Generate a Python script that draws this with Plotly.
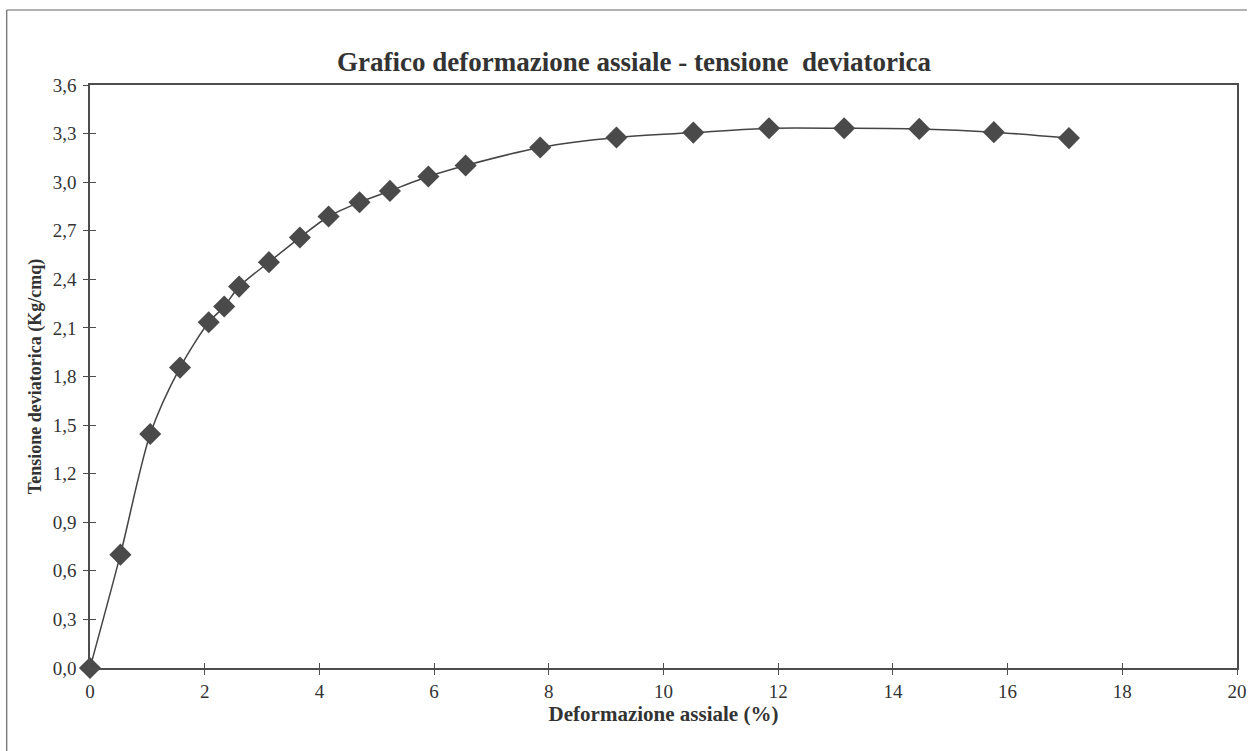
import plotly.graph_objects as go

# Data
deformazione = [0.0, 0.53, 1.05, 1.57, 2.07, 2.34, 2.60, 3.12, 3.66, 4.16, 4.70, 5.23,
                5.90, 6.55, 7.85, 9.18, 10.52, 11.84, 13.15, 14.46, 15.76, 17.07]
tensione = [0.0, 0.70, 1.445, 1.855, 2.135, 2.232, 2.355, 2.506, 2.658, 2.788, 2.876, 2.946,
            3.035, 3.103, 3.214, 3.276, 3.306, 3.333, 3.333, 3.329, 3.309, 3.272]
x_ticks = [0, 2, 4, 6, 8, 10, 12, 14, 16, 18, 20]
y_ticks = [0.0, 0.3, 0.6, 0.9, 1.2, 1.5, 1.8, 2.1, 2.4, 2.7, 3.0, 3.3, 3.6]

title_text = "Grafico deformazione assiale - tensione\u00a0 deviatorica"
x_title = "Deformazione assiale (%)"
y_title = "Tensione deviatorica (Kg/cmq)"

W, H = 1257, 751
ML, MR, MT, MB = 90, 10, 85, 83
FONT = "Liberation Serif, Times New Roman, serif"
INK = "#333333"
AXC = "#4d4d4d"

fig = go.Figure()
fig.add_trace(go.Scatter(
    x=deformazione, y=tensione, mode="lines+markers",
    line=dict(color="#444444", width=1.5, shape="spline", smoothing=0.8),
    marker=dict(symbol="diamond", size=17, color="#4a4a4a"),
    cliponaxis=False, showlegend=False,
))
# helper trace so that the overlay axes (inner half of crossing ticks) are drawn
fig.add_trace(go.Scatter(x=[None], y=[None], xaxis="x2", yaxis="y2",
                         showlegend=False, hoverinfo="skip"))

common = dict(showgrid=False, zeroline=False, linecolor=AXC, linewidth=1.5,
              tickcolor=AXC, tickwidth=1.2)

fig.update_layout(
    width=W, height=H, autosize=False,
    margin=dict(l=ML, r=MR, t=MT, b=MB),
    paper_bgcolor="white", plot_bgcolor="white",
    separators=", ",
    font=dict(family=FONT, color=INK, size=19),
    title=dict(text="<b>" + title_text + "</b>", x=634 / W,
               xanchor="center", y=1 - 62 / H, yanchor="middle",
               font=dict(size=27, family=FONT, color=INK)),
    xaxis=dict(range=[0, 20], tickvals=x_ticks, ticktext=[str(v) for v in x_ticks],
               ticks="outside", ticklen=5, showline=True, mirror=True,
               ticklabeloverflow="allow",
               title=dict(text="<b>" + x_title + "</b>", standoff=0,
                          font=dict(size=21, family=FONT, color=INK)),
               tickfont=dict(size=19, family=FONT, color=INK), **common),
    yaxis=dict(range=[0, 3.6], tickvals=y_ticks, tickformat=".1f",
               ticks="outside", ticklen=5, showline=True, mirror=True,
               ticklabelstandoff=3,
               title=dict(text="<b>" + y_title + "</b>", standoff=6,
                          font=dict(size=18, family=FONT, color=INK)),
               tickfont=dict(size=19, family=FONT, color=INK), **common),
    xaxis2=dict(range=[0, 20], overlaying="x", tickvals=x_ticks, showticklabels=False,
                ticks="inside", ticklen=5, showline=False, **common),
    yaxis2=dict(range=[0, 3.6], overlaying="y", tickvals=y_ticks, showticklabels=False,
                ticks="inside", ticklen=6, showline=False, **common),
)

# outer frame of the scanned chart area (left and top edges)
pw, ph = W - ML - MR, H - MT - MB
def px_x(p):
    return (p - ML) / pw
def px_y(p):
    return (H - MB - p) / ph
fig.add_shape(type="line", xref="paper", yref="paper",
              x0=px_x(6), x1=px_x(6), y0=px_y(10), y1=px_y(H),
              line=dict(color="#666", width=1.2))
fig.add_shape(type="line", xref="paper", yref="paper",
              x0=px_x(6), x1=px_x(W), y0=px_y(10), y1=px_y(10),
              line=dict(color="#666", width=1.2))

fig.write_html("out.html",
               config={"responsive": False, "displayModeBar": False},
               post_script="document.body.style.margin='0';document.body.style.overflow='hidden';")
